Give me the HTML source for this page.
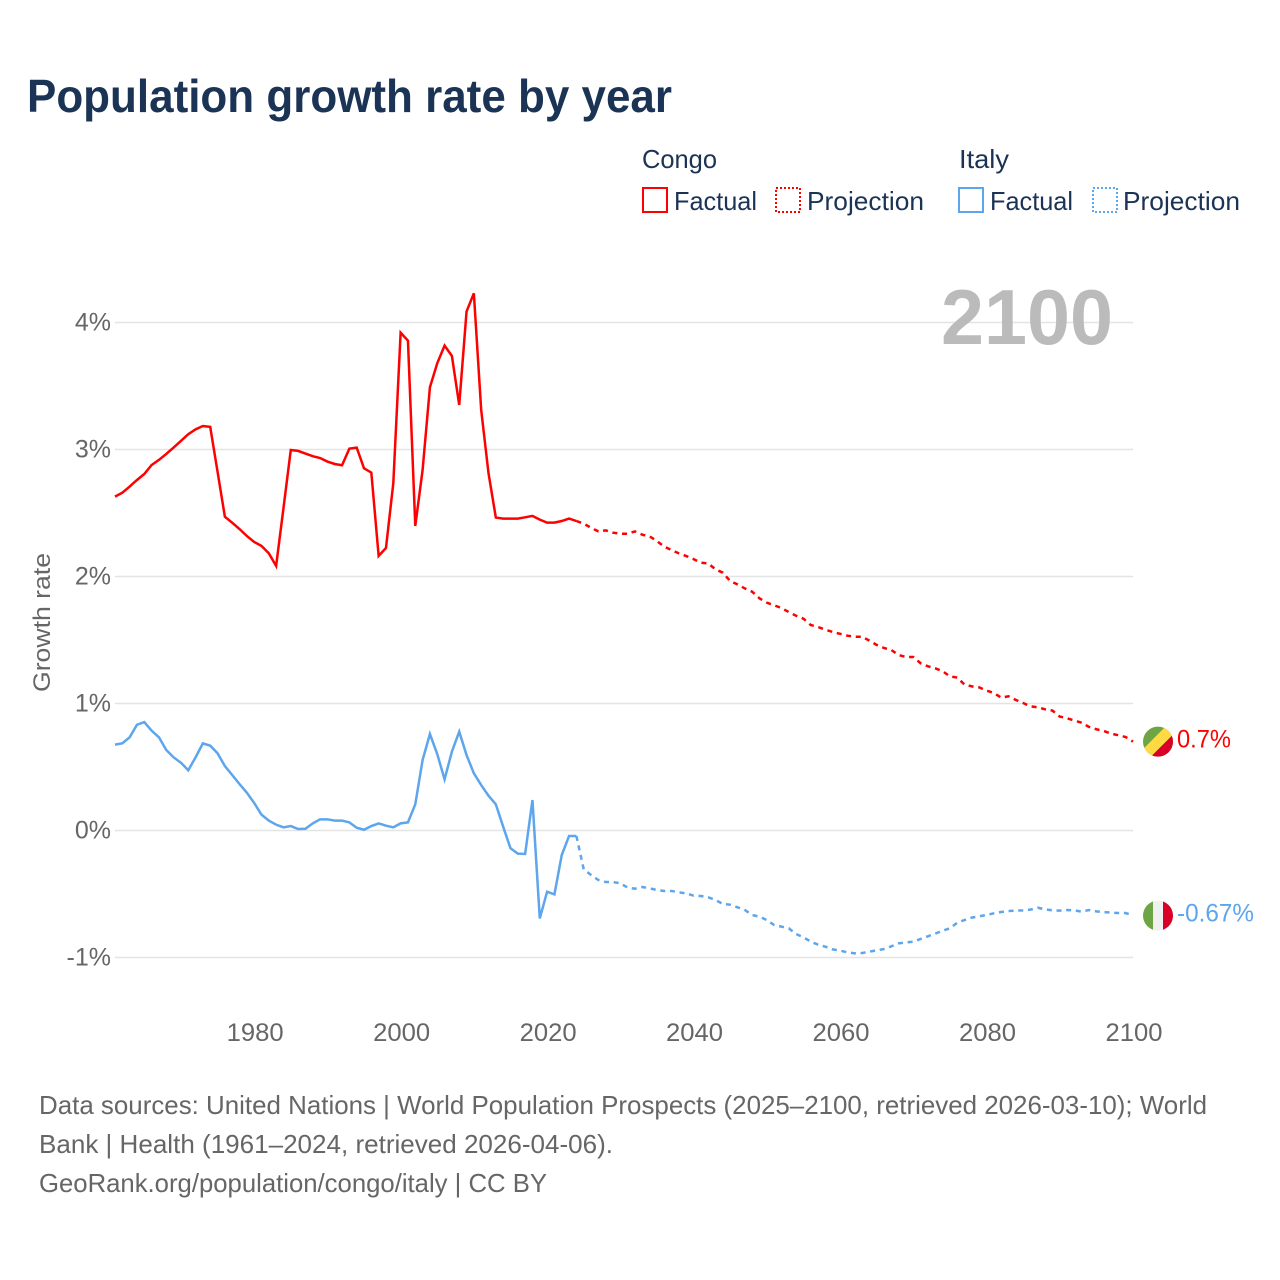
<!DOCTYPE html>
<html lang="en">
<head>
<meta charset="utf-8">
<title>Population growth rate by year</title>
<style>
html,body{margin:0;padding:0;background:#fff;}
svg{display:block;font-family:"Liberation Sans",sans-serif;}
</style>
</head>
<body>
<svg id="chart" xmlns="http://www.w3.org/2000/svg" width="1280" height="1280" viewBox="0 0 1280 1280">
  <defs>
    <clipPath id="flag-clip"><circle cx="0" cy="0" r="15"></circle></clipPath>
  </defs>
  <rect x="0" y="0" width="1280" height="1280" fill="#ffffff"></rect>
  <text x="27" y="112" font-size="46" font-weight="700" fill="#1b3354" textLength="645" lengthAdjust="spacingAndGlyphs">Population growth rate by year</text>

  <g font-size="26" fill="#1b3354">
    <text x="642" y="168" textLength="75" lengthAdjust="spacingAndGlyphs">Congo</text>
    <text x="959" y="168" textLength="50" lengthAdjust="spacingAndGlyphs">Italy</text>
    <rect x="643" y="188" width="24" height="24" fill="none" stroke="#ff0000" stroke-width="2"></rect>
    <text x="674" y="210" textLength="83" lengthAdjust="spacingAndGlyphs">Factual</text>
    <rect x="776" y="188" width="24" height="24" fill="none" stroke="#ff0000" stroke-width="2" stroke-dasharray="2,2"></rect>
    <text x="807" y="210" textLength="117" lengthAdjust="spacingAndGlyphs">Projection</text>
    <rect x="959" y="188" width="24" height="24" fill="none" stroke="#5da5ec" stroke-width="2"></rect>
    <text x="990" y="210" textLength="83" lengthAdjust="spacingAndGlyphs">Factual</text>
    <rect x="1093" y="188" width="24" height="24" fill="none" stroke="#5da5ec" stroke-width="2" stroke-dasharray="2,2"></rect>
    <text x="1123" y="210" textLength="117" lengthAdjust="spacingAndGlyphs">Projection</text>
  </g>

  <g id="grid"></g>
  <g id="xaxis"></g>
  <text transform="translate(50,692) rotate(-90)" font-size="24" fill="#666666" textLength="139" lengthAdjust="spacingAndGlyphs">Growth rate</text>
  <text x="941" y="344" font-size="78" font-weight="700" fill="#bbbbbb" textLength="172" lengthAdjust="spacingAndGlyphs">2100</text>
  <g id="series"></g>

  <g id="flag-congo">
    <g clip-path="url(#flag-clip)">
      <rect x="-16" y="-16" width="32" height="32" fill="#6da544"></rect>
      <polygon points="-20,12.5 12.5,-20 28,-20 -20,28" fill="#ffda44"></polygon>
      <polygon points="-20,28 28,-20 28,28" fill="#d80027"></polygon>
    </g>
  </g>
  <g id="flag-italy">
    <g clip-path="url(#flag-clip)">
      <rect x="-15" y="-16" width="10" height="32" fill="#6da544"></rect>
      <rect x="-5" y="-16" width="10" height="32" fill="#f0f0f0"></rect>
      <rect x="5" y="-16" width="10" height="32" fill="#d80027"></rect>
    </g>
  </g>
  <text id="end-label-congo" x="1177" font-size="25" fill="#ff0000" textLength="54" lengthAdjust="spacingAndGlyphs"></text>
  <text id="end-label-italy" x="1177" font-size="25" fill="#5da5ec" textLength="77" lengthAdjust="spacingAndGlyphs"></text>

  <g font-size="26" fill="#666666">
    <text x="39" y="1114" textLength="1168" lengthAdjust="spacingAndGlyphs">Data sources: United Nations | World Population Prospects (2025–2100, retrieved 2026-03-10); World</text>
    <text x="39" y="1153" textLength="574" lengthAdjust="spacingAndGlyphs">Bank | Health (1961–2024, retrieved 2026-04-06).</text>
    <text x="39" y="1192" textLength="508" lengthAdjust="spacingAndGlyphs">GeoRank.org/population/congo/italy | CC BY</text>
  </g>
</svg>
<script>
const factualStartYear = 1961;
const projectionStartYear = 2024;
const yTicks = [-1, 0, 1, 2, 3, 4];
const yTickLabels = ["-1%", "0%", "1%", "2%", "3%", "4%"];
const xTicks = [1980, 2000, 2020, 2040, 2060, 2080, 2100];
const xTickLabels = ["1980", "2000", "2020", "2040", "2060", "2080", "2100"];
const endLabels = ["0.7%", "-0.67%"];

const congoFactual = [2.629,2.660,2.708,2.760,2.807,2.878,2.918,2.965,3.015,3.067,3.120,3.159,3.185,3.178,2.826,2.471,2.424,2.374,2.319,2.272,2.241,2.183,2.083,2.537,2.996,2.989,2.968,2.947,2.933,2.905,2.886,2.876,3.007,3.015,2.852,2.818,2.162,2.225,2.734,3.920,3.857,2.398,2.839,3.490,3.679,3.818,3.737,3.351,4.086,4.230,3.311,2.813,2.464,2.456,2.456,2.456,2.466,2.477,2.448,2.424,2.424,2.437,2.456,2.437];
const congoProjection = [2.437,2.416,2.384,2.355,2.363,2.345,2.337,2.337,2.355,2.329,2.316,2.279,2.235,2.208,2.182,2.161,2.137,2.109,2.103,2.056,2.030,1.964,1.938,1.906,1.880,1.828,1.794,1.773,1.752,1.720,1.691,1.668,1.618,1.602,1.581,1.563,1.549,1.534,1.526,1.526,1.495,1.461,1.437,1.421,1.382,1.366,1.366,1.317,1.293,1.277,1.254,1.214,1.204,1.149,1.135,1.127,1.101,1.083,1.046,1.057,1.028,1.004,0.978,0.970,0.954,0.944,0.897,0.884,0.865,0.849,0.815,0.797,0.784,0.763,0.750,0.736,0.700];
const italyFactual = [0.676,0.686,0.734,0.833,0.854,0.786,0.734,0.634,0.576,0.534,0.474,0.576,0.686,0.668,0.608,0.508,0.437,0.366,0.298,0.217,0.125,0.078,0.046,0.025,0.035,0.012,0.014,0.056,0.088,0.088,0.078,0.078,0.064,0.022,0.006,0.035,0.056,0.038,0.025,0.056,0.064,0.206,0.555,0.760,0.602,0.403,0.621,0.778,0.594,0.450,0.358,0.274,0.206,0.030,-0.140,-0.182,-0.185,0.240,-0.692,-0.482,-0.503,-0.193,-0.043,-0.043];
const italyProjection = [-0.043,-0.306,-0.350,-0.390,-0.406,-0.406,-0.416,-0.450,-0.458,-0.445,-0.455,-0.469,-0.476,-0.476,-0.487,-0.495,-0.513,-0.516,-0.526,-0.547,-0.579,-0.584,-0.605,-0.626,-0.665,-0.679,-0.705,-0.744,-0.757,-0.770,-0.815,-0.841,-0.875,-0.899,-0.915,-0.936,-0.946,-0.959,-0.967,-0.965,-0.954,-0.944,-0.933,-0.912,-0.889,-0.881,-0.875,-0.854,-0.833,-0.812,-0.789,-0.770,-0.726,-0.705,-0.686,-0.676,-0.665,-0.652,-0.642,-0.634,-0.631,-0.629,-0.623,-0.608,-0.621,-0.629,-0.631,-0.626,-0.629,-0.639,-0.626,-0.637,-0.642,-0.647,-0.650,-0.650,-0.670];

const SVG_NS = "http://www.w3.org/2000/svg";
const plotLeft = 115, plotRight = 1133;
function xScale(year) { return plotLeft + (year - 1961) * (plotRight - plotLeft) / (2100 - 1961); }
function yScale(value) { return 830.5 - value * 127; }

const grid = document.getElementById("grid");
yTicks.forEach(function (tick, i) {
  const line = document.createElementNS(SVG_NS, "line");
  
  
  line.setAttribute("x1", plotLeft);
  line.setAttribute("x2", plotRight);
  line.setAttribute("y1", yScale(tick));
  line.setAttribute("y2", yScale(tick));
  line.setAttribute("stroke", "#e4e4e4");
  line.setAttribute("stroke-width", "1.4");
  grid.appendChild(line);
  const label = document.createElementNS(SVG_NS, "text");
  
  
  label.setAttribute("x", 111);
  label.setAttribute("y", yScale(tick) + 8);
  label.setAttribute("text-anchor", "end");
  label.setAttribute("font-size", "25");
  label.setAttribute("fill", "#666666");
  label.textContent = yTickLabels[i];
  grid.appendChild(label);
});

const xaxis = document.getElementById("xaxis");
xTicks.forEach(function (tick, i) {
  const label = document.createElementNS(SVG_NS, "text");
  
  
  label.setAttribute("x", xScale(tick) + 1);
  label.setAttribute("y", 1041);
  label.setAttribute("text-anchor", "middle");
  label.setAttribute("font-size", "25");
  label.setAttribute("fill", "#666666");
  label.setAttribute("textLength", "57");
  label.setAttribute("lengthAdjust", "spacingAndGlyphs");
  label.textContent = xTickLabels[i];
  xaxis.appendChild(label);
});

function linePath(values, startYear) {
  return values.map(function (v, i) {
    return (i === 0 ? "M" : "L") + xScale(startYear + i).toFixed(2) + " " + yScale(v).toFixed(2);
  }).join(" ");
}

const seriesGroup = document.getElementById("series");

const congoFactualLine = document.createElementNS(SVG_NS, "path");


congoFactualLine.setAttribute("d", linePath(congoFactual, factualStartYear));
congoFactualLine.setAttribute("fill", "none");
congoFactualLine.setAttribute("stroke", "#ff0000");
congoFactualLine.setAttribute("stroke-width", "2.5");
seriesGroup.appendChild(congoFactualLine);

const congoProjectionLine = document.createElementNS(SVG_NS, "path");


congoProjectionLine.setAttribute("d", linePath(congoProjection, projectionStartYear));
congoProjectionLine.setAttribute("fill", "none");
congoProjectionLine.setAttribute("stroke", "#ff0000");
congoProjectionLine.setAttribute("stroke-width", "2.5");
congoProjectionLine.setAttribute("stroke-dasharray", "5,4.7");
seriesGroup.appendChild(congoProjectionLine);

const italyFactualLine = document.createElementNS(SVG_NS, "path");


italyFactualLine.setAttribute("d", linePath(italyFactual, factualStartYear));
italyFactualLine.setAttribute("fill", "none");
italyFactualLine.setAttribute("stroke", "#5da5ec");
italyFactualLine.setAttribute("stroke-width", "2.5");
seriesGroup.appendChild(italyFactualLine);

const italyProjectionLine = document.createElementNS(SVG_NS, "path");


italyProjectionLine.setAttribute("d", linePath(italyProjection, projectionStartYear));
italyProjectionLine.setAttribute("fill", "none");
italyProjectionLine.setAttribute("stroke", "#5da5ec");
italyProjectionLine.setAttribute("stroke-width", "2.5");
italyProjectionLine.setAttribute("stroke-dasharray", "5,4.7");
seriesGroup.appendChild(italyProjectionLine);

const congoEnd = congoProjection[congoProjection.length - 1];
const italyEnd = italyProjection[italyProjection.length - 1];
document.getElementById("flag-congo").setAttribute("transform", "translate(1158," + yScale(congoEnd).toFixed(2) + ")");
document.getElementById("flag-italy").setAttribute("transform", "translate(1158," + yScale(italyEnd).toFixed(2) + ")");
const congoLabel = document.getElementById("end-label-congo");
congoLabel.setAttribute("y", yScale(congoEnd) + 6);
congoLabel.textContent = endLabels[0];
const italyLabel = document.getElementById("end-label-italy");
italyLabel.setAttribute("y", yScale(italyEnd) + 6);
italyLabel.textContent = endLabels[1];
</script>
</body>
</html>
